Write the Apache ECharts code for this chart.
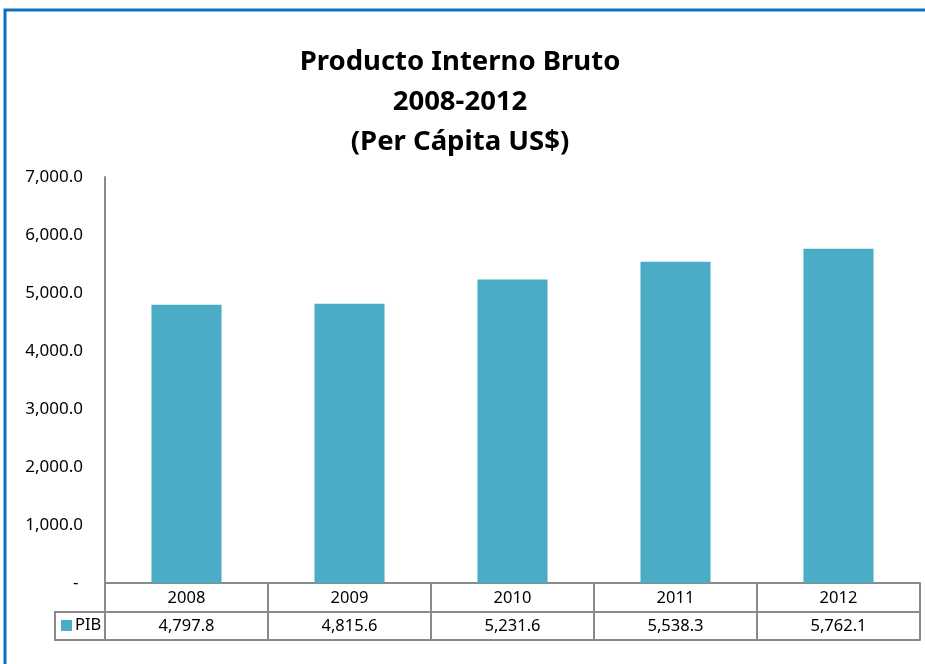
<!DOCTYPE html>
<html>
<head>
<meta charset="utf-8">
<script src="https://cdn.jsdelivr.net/npm/echarts@6/dist/echarts.min.js"></script>
<style>
html,body{margin:0;padding:0;background:#fff;}
#c{width:925px;height:664px;}
</style>
</head>
<body>
<div id="c"></div>
<script>
const titleLines = ['Producto Interno Bruto', '2008-2012', '(Per Cápita US$)'];
const years = ['2008', '2009', '2010', '2011', '2012'];
const seriesName = 'PIB';
const pib = [4797.8, 4815.6, 5231.6, 5538.3, 5762.1];
const yTicks = { min: 0, max: 7000, interval: 1000 };

const fmt1 = v => v.toLocaleString('en-US', {minimumFractionDigits: 1, maximumFractionDigits: 1});
const FONT = 'Noto Sans';
const GRAY = '#8a8a8a';

const chart = echarts.init(document.getElementById('c'));
chart.setOption({
  animation: false,
  backgroundColor: '#fff',
  title: {
    text: titleLines.join('\n'),
    left: 455, textAlign: 'center', top: 37,
    textStyle: { fontFamily: FONT, fontWeight: 'bold', fontSize: 27.5, lineHeight: 40, color: '#000' }
  },
  legend: {
    data: [seriesName],
    left: 61, top: 617,
    icon: 'rect', itemWidth: 11, itemHeight: 11, itemGap: 4, padding: 0,
    textStyle: { fontFamily: FONT, fontSize: 16.5, color: '#000', padding: [0, 0, 0, -2] },
    selectedMode: false
  },
  grid: { left: 105, right: 5, top: 177, bottom: 81, containLabel: false },
  xAxis: [
    {
      type: 'category', data: years, position: 'bottom',
      axisLine: { lineStyle: { color: GRAY, width: 2 } },
      axisTick: { show: true, length: 57, lineStyle: { color: GRAY, width: 2 } },
      axisLabel: { fontFamily: FONT, fontSize: 16.5, color: '#000', margin: 15, verticalAlign: 'middle' }
    },
    {
      type: 'category', data: pib.map(fmt1), position: 'bottom', offset: 29,
      axisLine: { lineStyle: { color: GRAY, width: 2 } },
      axisTick: { show: false },
      axisLabel: { fontFamily: FONT, fontSize: 16.5, color: '#000', margin: 14, verticalAlign: 'middle' }
    },
    {
      type: 'category', data: years, position: 'bottom', offset: 57,
      axisLine: { lineStyle: { color: GRAY, width: 2 } },
      axisTick: { show: false },
      axisLabel: { show: false }
    }
  ],
  yAxis: {
    type: 'value', min: yTicks.min, max: yTicks.max, interval: yTicks.interval,
    axisLine: { show: true, lineStyle: { color: GRAY, width: 2 } },
    axisTick: { show: false },
    splitLine: { show: false },
    axisLabel: {
      fontFamily: FONT, fontSize: 17, color: '#000', margin: 22,
      formatter: v => v === 0 ? '- ' : fmt1(v)
    }
  },
  graphic: [
    {
      type: 'rect',
      shape: { x: 55, y: 612, width: 50, height: 28 },
      style: { fill: 'none', stroke: GRAY, lineWidth: 2 }
    },
    {
      type: 'polyline',
      shape: { points: [[5, 664], [5, 10], [925, 10]] },
      style: { fill: 'none', stroke: '#0a6fc0', lineWidth: 3 }
    }
  ],
  series: [{
    name: seriesName, type: 'bar', data: pib, xAxisIndex: 0,
    barWidth: '43%',
    itemStyle: { color: '#4BACC6' }
  }]
});
</script>
</body>
</html>
